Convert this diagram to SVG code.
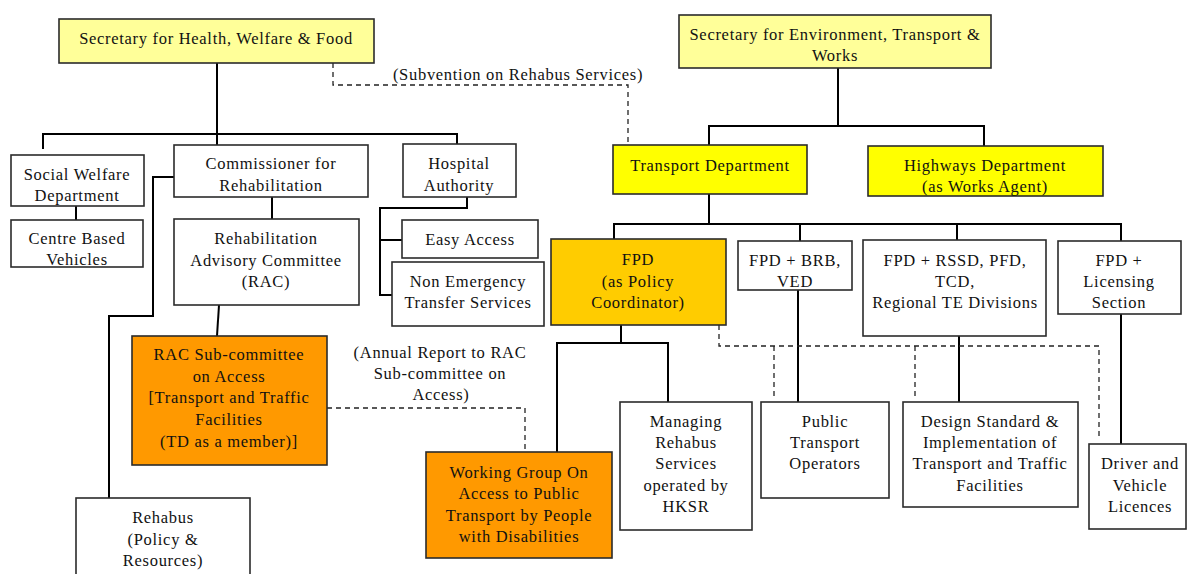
<svg xmlns="http://www.w3.org/2000/svg" width="1187" height="574" viewBox="0 0 1187 574">
  <style>
    .box { stroke: #2b2b2b; stroke-width: 1.6; fill: #ffffff; }
    .pale { fill: #ffff99; }
    .yellow { fill: #ffff00; }
    .gold { fill: #ffcc00; }
    .orange { fill: #ff9900; }
    text { font-family: "Liberation Serif", "DejaVu Serif", "Times New Roman", serif; font-size: 16.5px; letter-spacing: 0.7px; fill: #111; text-anchor: middle; dominant-baseline: central; }
    .solid { stroke: #000; stroke-width: 2; fill: none; }
    .dash { stroke: #222; stroke-width: 1.3; fill: none; stroke-dasharray: 5 4; }
  </style>
  <rect width="1187" height="574" fill="#ffffff"/>

  <g id="connectors">
    <!-- Health, Welfare & Food branch -->
    <polyline class="solid" points="217,63 217,146"/>
    <polyline class="solid" points="43,149 43,134 457,134 457,144"/>
    <polyline class="solid" points="76,206 76,220"/>
    <polyline class="solid" points="272,197 272,219"/>
    <polyline class="solid" points="219,305 217,336"/>
    <polyline class="solid" points="174,177 153,177 153,316 109,316 109,498"/>
    <polyline class="solid" points="467,197 467,208 380,208 380,295 392,295"/>
    <polyline class="solid" points="380,240 402,240"/>
    <!-- Environment, Transport & Works branch -->
    <polyline class="solid" points="838,60 838,126"/>
    <polyline class="solid" points="709,145 709,126 984,126 984,146"/>
    <polyline class="solid" points="709,194 709,224"/>
    <polyline class="solid" points="614,240 614,224 1121,224 1121,241"/>
    <polyline class="solid" points="800,224 800,241"/>
    <polyline class="solid" points="957,224 957,240"/>
    <polyline class="solid" points="621,325 621,343"/>
    <polyline class="solid" points="557,452 557,343 668,343 668,402"/>
    <polyline class="solid" points="798,290 798,402"/>
    <polyline class="solid" points="959,336 959,402"/>
    <polyline class="solid" points="1121,314 1121,444"/>
    <!-- dashed relationships -->
    <polyline class="dash" points="333,63 333,85 628,85 628,145"/>
    <polyline class="dash" points="327,408 525,408 525,452"/>
    <polyline class="dash" points="719,325 719,346 1099,346 1099,440"/>
    <polyline class="dash" points="774,346 774,400"/>
    <polyline class="dash" points="915,346 915,400"/>
    <text x="518" y="74">(Subvention on Rehabus Services)</text>
    <text x="440" y="352">(Annual Report to RAC</text>
    <text x="440" y="373">Sub-committee on</text>
    <text x="441" y="394">Access)</text>
  </g>

  <g id="shwf">
    <rect class="box pale" x="59" y="19" width="315" height="44"/>
    <text x="216" y="38">Secretary for Health, Welfare &amp; Food</text>
  </g>
  <g id="swd">
    <rect class="box" x="11" y="155" width="133" height="51"/>
    <text x="77" y="174">Social Welfare</text>
    <text x="77" y="195">Department</text>
  </g>
  <g id="centre-based">
    <rect class="box" x="11" y="220" width="132" height="47"/>
    <text x="77" y="238">Centre Based</text>
    <text x="77" y="259">Vehicles</text>
  </g>
  <g id="commissioner">
    <rect class="box" x="174" y="145" width="194" height="52"/>
    <text x="271" y="163">Commissioner for</text>
    <text x="271" y="185">Rehabilitation</text>
  </g>
  <g id="hospital">
    <rect class="box" x="403" y="144" width="113" height="53"/>
    <text x="459" y="163">Hospital</text>
    <text x="459" y="185">Authority</text>
  </g>
  <g id="easy-access">
    <rect class="box" x="402" y="220" width="136" height="38"/>
    <text x="470" y="239">Easy Access</text>
  </g>
  <g id="nets">
    <rect class="box" x="392" y="262" width="152" height="64"/>
    <text x="468" y="281">Non Emergency</text>
    <text x="468" y="302">Transfer Services</text>
  </g>
  <g id="rac">
    <rect class="box" x="174" y="219" width="185" height="86"/>
    <text x="266" y="238">Rehabilitation</text>
    <text x="266" y="260">Advisory Committee</text>
    <text x="266" y="281">(RAC)</text>
  </g>
  <g id="rac-sub">
    <rect class="box orange" x="132" y="336" width="195" height="129"/>
    <text x="229" y="354">RAC Sub-committee</text>
    <text x="229" y="376">on Access</text>
    <text x="229" y="397">[Transport and Traffic</text>
    <text x="229" y="419">Facilities</text>
    <text x="229" y="441">(TD as a member)]</text>
  </g>
  <g id="rehabus">
    <rect class="box" x="76" y="498" width="174" height="90"/>
    <text x="163" y="517">Rehabus</text>
    <text x="163" y="539">(Policy &amp;</text>
    <text x="163" y="560">Resources)</text>
  </g>
  <g id="setw">
    <rect class="box pale" x="679" y="15" width="312" height="53"/>
    <text x="835" y="34">Secretary for Environment, Transport &amp;</text>
    <text x="835" y="55">Works</text>
  </g>
  <g id="td">
    <rect class="box yellow" x="613" y="145" width="194" height="49"/>
    <text x="710" y="165">Transport Department</text>
  </g>
  <g id="hyd">
    <rect class="box yellow" x="868" y="146" width="235" height="50"/>
    <text x="985" y="165">Highways Department</text>
    <text x="985" y="186">(as Works Agent)</text>
  </g>
  <g id="fpd">
    <rect class="box gold" x="551" y="239" width="175" height="86"/>
    <text x="638" y="259">FPD</text>
    <text x="638" y="281">(as Policy</text>
    <text x="638" y="302">Coordinator)</text>
  </g>
  <g id="fpd-brb">
    <rect class="box" x="738" y="241" width="114" height="49"/>
    <text x="795" y="260">FPD + BRB,</text>
    <text x="795" y="281">VED</text>
  </g>
  <g id="fpd-rssd">
    <rect class="box" x="863" y="240" width="183" height="96"/>
    <text x="955" y="260">FPD + RSSD, PFD,</text>
    <text x="955" y="281">TCD,</text>
    <text x="955" y="302">Regional TE Divisions</text>
  </g>
  <g id="fpd-licensing">
    <rect class="box" x="1058" y="241" width="123" height="73"/>
    <text x="1119" y="260">FPD +</text>
    <text x="1119" y="281">Licensing</text>
    <text x="1119" y="302">Section</text>
  </g>
  <g id="working-group">
    <rect class="box orange" x="426" y="452" width="186" height="106"/>
    <text x="519" y="472">Working Group On</text>
    <text x="519" y="493">Access to Public</text>
    <text x="519" y="515">Transport by People</text>
    <text x="519" y="536">with Disabilities</text>
  </g>
  <g id="managing-rehabus">
    <rect class="box" x="620" y="402" width="132" height="128"/>
    <text x="686" y="421">Managing</text>
    <text x="686" y="442">Rehabus</text>
    <text x="686" y="463">Services</text>
    <text x="686" y="485">operated by</text>
    <text x="686" y="506">HKSR</text>
  </g>
  <g id="pto">
    <rect class="box" x="761" y="402" width="128" height="96"/>
    <text x="825" y="421">Public</text>
    <text x="825" y="442">Transport</text>
    <text x="825" y="463">Operators</text>
  </g>
  <g id="design-standard">
    <rect class="box" x="903" y="402" width="175" height="105"/>
    <text x="990" y="421">Design Standard &amp;</text>
    <text x="990" y="442">Implementation of</text>
    <text x="990" y="463">Transport and Traffic</text>
    <text x="990" y="485">Facilities</text>
  </g>
  <g id="licences">
    <rect class="box" x="1089" y="444" width="97" height="85"/>
    <text x="1140" y="463">Driver and</text>
    <text x="1140" y="485">Vehicle</text>
    <text x="1140" y="506">Licences</text>
  </g>
</svg>
